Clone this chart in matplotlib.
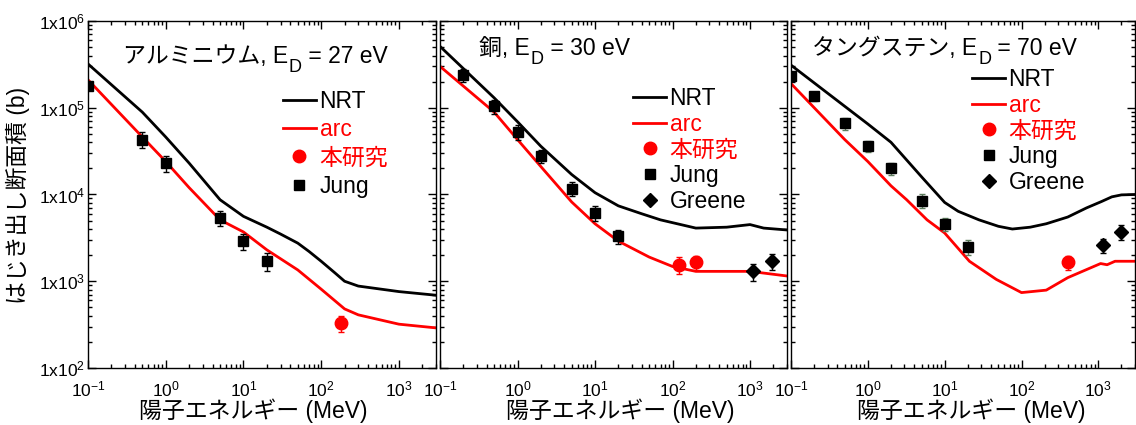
import numpy as np
import matplotlib.pyplot as plt
from matplotlib.lines import Line2D
from matplotlib.ticker import LogLocator, FuncFormatter, NullFormatter

plt.rcParams['font.family'] = ['Liberation Sans', 'Noto Sans CJK JP']
plt.rcParams['mathtext.fontset'] = 'custom'
plt.rcParams['mathtext.rm'] = 'Liberation Sans'
plt.rcParams['mathtext.it'] = 'Liberation Sans:italic'
plt.rcParams['mathtext.bf'] = 'Liberation Sans:bold'

# ---- data (proton energy in MeV, displacement cross section in barn) ----
# aluminium
al_nrt_e = [0.1, 0.5, 1, 2, 5, 10, 20, 30, 50, 70, 100, 150, 200, 300, 1000, 3000]
al_nrt_s = [3.2e5, 8.9e4, 4.6e4, 2.3e4, 8.7e3, 5.6e3, 4.2e3, 3.5e3, 2.75e3, 2.2e3, 1.7e3, 1.25e3,
            1.0e3, 8.8e2, 7.6e2, 6.9e2]
al_arc_e = [0.1, 0.5, 1, 2, 5, 10, 20, 50, 100, 200, 300, 1000, 3000]
al_arc_s = [2.1e5, 4.6e4, 2.4e4, 1.2e4, 5.1e3, 3.7e3, 2.3e3, 1.35e3, 8.1e2, 4.8e2, 4.1e2, 3.2e2, 2.9e2]
al_jung_e = [0.1, 0.5, 1, 5, 10, 20]
al_jung_s = [1.8e5, 4.3e4, 2.3e4, 5.4e3, 2.9e3, 1.7e3]
al_jung_err = [2.0e4, 9.0e3, 5.0e3, 1.1e3, 6.0e2, 4.0e2]
al_this_e = [180]
al_this_s = [330]
al_this_err = [70]

# copper
cu_nrt_e = [0.1, 0.5, 1, 2, 5, 10, 20, 40, 70, 200, 500, 1000, 1500, 3000]
cu_nrt_s = [5.1e5, 1.3e5, 6.9e4, 3.6e4, 1.7e4, 1.05e4, 7.4e3, 6.0e3, 5.1e3, 4.1e3, 4.2e3, 4.5e3,
            4.1e3, 3.9e3]
cu_arc_e = [0.1, 0.5, 1, 2, 5, 10, 20, 50, 100, 200, 500, 1000, 3000]
cu_arc_s = [3.0e5, 8.9e4, 4.3e4, 2.1e4, 8.2e3, 4.6e3, 2.9e3, 1.9e3, 1.48e3, 1.3e3, 1.3e3, 1.3e3,
            1.15e3]
cu_jung_e = [0.2, 0.5, 1, 2, 5, 10, 20]
cu_jung_s = [2.4e5, 1.04e5, 5.3e4, 2.8e4, 1.17e4, 6.1e3, 3.3e3]
cu_jung_err = [4.0e4, 2.0e4, 1.0e4, 5.0e3, 2.2e3, 1.2e3, 6.0e2]
cu_this_e = [120, 200]
cu_this_s = [1.55e3, 1.65e3]
cu_this_err = [3.5e2, 3.0e2]
cu_greene_e = [1100, 1900]
cu_greene_s = [1.3e3, 1.7e3]
cu_greene_err = [3.0e2, 3.5e2]

# tungsten
w_nrt_e = [0.1, 0.5, 1, 2, 5, 10, 15, 28, 50, 76, 130, 210, 400, 700, 1100, 1500, 2000, 3000]
w_nrt_s = [3.1e5, 1.04e5, 6.5e4, 4.0e4, 1.6e4, 8.1e3, 6.4e3, 5.1e3, 4.3e3, 4.0e3, 4.2e3, 4.6e3,
           5.5e3, 7.0e3, 8.3e3, 9.4e3, 9.9e3, 1.0e4]
w_arc_e = [0.1, 0.5, 1, 2, 3.2, 5.9, 10, 21, 47, 100, 210, 400, 1070, 1300, 1650, 3000]
w_arc_s = [1.9e5, 4.3e4, 2.4e4, 1.26e4, 8.7e3, 5.1e3, 3.6e3, 1.7e3, 1.05e3, 7.4e2, 7.9e2, 1.1e3,
           1.6e3, 1.55e3, 1.7e3, 1.7e3]
w_jung_e = [0.1, 0.2, 0.5, 1, 2, 5, 10, 20]
w_jung_s = [2.3e5, 1.35e5, 6.6e4, 3.6e4, 2.0e4, 8.5e3, 4.6e3, 2.5e3]
w_jung_err = [1.5e4, 1.5e4, 1.0e4, 5.0e3, 3.0e3, 1.5e3, 8.0e2, 5.0e2]
w_this_e = [400]
w_this_s = [1.65e3]
w_this_err = [3.0e2]
w_greene_e = [1150, 2000]
w_greene_s = [2.6e3, 3.7e3]
w_greene_err = [5.0e2, 7.0e2]

titles = ["アルミニウム", "銅", "タングステン"]
ed_values = ["27", "30", "70"]
xlabel = "陽子エネルギー (MeV)"
ylabel = "はじき出し断面積 (b)"

FS = 16.5
W, H = 1136, 425
fig = plt.figure(figsize=(W / 100, H / 100), dpi=100)


def px_axes(left, right, top=21, bottom=368):
    return fig.add_axes([left / W, 1 - bottom / H, (right - left) / W, (bottom - top) / H])


def sci_y(v, pos):
    return "1x10$^{%d}$" % round(np.log10(v))


def sci_x(v, pos):
    return "10$^{%d}$" % round(np.log10(v))


def put_title(ax, x, y, name, ed):
    renderer = fig.canvas.get_renderer()
    t1 = ax.text(x, y, name + ", E", transform=ax.transAxes, fontsize=FS, va="baseline")
    bb = t1.get_window_extent(renderer)
    x0, y0 = ax.transAxes.transform((x, y))
    t2 = ax.text(bb.x1 + 1, y0 - 9, "D", transform=None, fontsize=13, va="baseline")
    bb2 = t2.get_window_extent(renderer)
    ax.text(bb2.x1, y0, " = " + ed + " eV", transform=None, fontsize=FS, va="baseline")


def draw_panel(ax, nrt, arc, jung, this, greene, leg_pos, spacing, xl_pos, jung_ecolor="black"):
    ax.plot(nrt[0], nrt[1], color="black", lw=2.0)
    ax.plot(arc[0], arc[1], color="red", lw=2.0)
    ax.errorbar(jung[0], jung[1], yerr=jung[2], fmt="s", color="black", ms=7,
                ecolor=jung_ecolor, elinewidth=1, capsize=2.5, capthick=1)
    ax.errorbar(this[0], this[1], yerr=this[2], fmt="o", color="red", ms=9,
                elinewidth=1, capsize=2.5, capthick=1)
    handles = [Line2D([], [], color="black", lw=2.0),
               Line2D([], [], color="red", lw=2.0),
               Line2D([], [], color="red", marker="o", ls="none", ms=9),
               Line2D([], [], color="black", marker="s", ls="none", ms=7)]
    labels = ["NRT", "arc", "本研究", "Jung"]
    colors = ["black", "red", "red", "black"]
    if greene is not None:
        ax.errorbar(greene[0], greene[1], yerr=greene[2], fmt="D", color="black", ms=7,
                    elinewidth=1, capsize=2.5, capthick=1)
        handles.append(Line2D([], [], color="black", marker="D", ls="none", ms=7))
        labels.append("Greene")
        colors.append("black")

    ax.set_xscale("log")
    ax.set_yscale("log")
    ax.set_xlim(0.1, 3000)
    ax.set_ylim(1e2, 1e6)
    ax.xaxis.set_major_locator(LogLocator(base=10, numticks=10))
    ax.xaxis.set_minor_locator(LogLocator(base=10, subs=np.arange(2, 10), numticks=20))
    ax.yaxis.set_major_locator(LogLocator(base=10, numticks=10))
    ax.yaxis.set_minor_locator(LogLocator(base=10, subs=np.arange(2, 10), numticks=20))
    ax.xaxis.set_major_formatter(FuncFormatter(sci_x))
    ax.yaxis.set_major_formatter(FuncFormatter(sci_y))
    ax.xaxis.set_minor_formatter(NullFormatter())
    ax.yaxis.set_minor_formatter(NullFormatter())
    ax.tick_params(which="both", direction="in", top=True, right=True, width=1.0)
    ax.tick_params(which="major", length=6, labelsize=12.5)
    ax.tick_params(which="minor", length=3)
    ax.tick_params(axis="x", pad=8)
    ax.tick_params(axis="y", pad=2)
    for sp in ax.spines.values():
        sp.set_linewidth(1.0)

    leg = ax.legend(handles, labels, loc="upper left", bbox_to_anchor=leg_pos,
                    frameon=False, fontsize=FS, handlelength=1.45, handletextpad=0.15,
                    labelspacing=spacing, borderpad=0, borderaxespad=0)
    for txt, c in zip(leg.get_texts(), colors):
        txt.set_color(c)

    ax.text(xl_pos, -0.124, xlabel, transform=ax.transAxes, fontsize=FS,
            ha="center", va="center")


ax1 = px_axes(88, 436)
ax2 = px_axes(440, 787)
ax3 = px_axes(791, 1135)

draw_panel(ax1, (al_nrt_e, al_nrt_s), (al_arc_e, al_arc_s),
           (al_jung_e, al_jung_s, al_jung_err), (al_this_e, al_this_s, al_this_err), None,
           (0.56, 0.80), 0.22, 0.474)
draw_panel(ax2, (cu_nrt_e, cu_nrt_s), (cu_arc_e, cu_arc_s),
           (cu_jung_e, cu_jung_s, cu_jung_err), (cu_this_e, cu_this_s, cu_this_err),
           (cu_greene_e, cu_greene_s, cu_greene_err),
           (0.556, 0.81), 0.12, 0.52)
draw_panel(ax3, (w_nrt_e, w_nrt_s), (w_arc_e, w_arc_s),
           (w_jung_e, w_jung_s, w_jung_err), (w_this_e, w_this_s, w_this_err),
           (w_greene_e, w_greene_s, w_greene_err),
           (0.526, 0.865), 0.12, 0.523, jung_ecolor="#5f7f5f")

ax2.tick_params(labelleft=False)
ax3.tick_params(labelleft=False)

put_title(ax1, 0.10, 0.879, titles[0], ed_values[0])
put_title(ax2, 0.112, 0.902, titles[1], ed_values[1])
put_title(ax3, 0.061, 0.902, titles[2], ed_values[2])

fig.text(18 / W, 1 - 195 / H, ylabel, rotation=90, fontsize=FS, ha="center", va="center")

fig.savefig("out.png", dpi=100)
